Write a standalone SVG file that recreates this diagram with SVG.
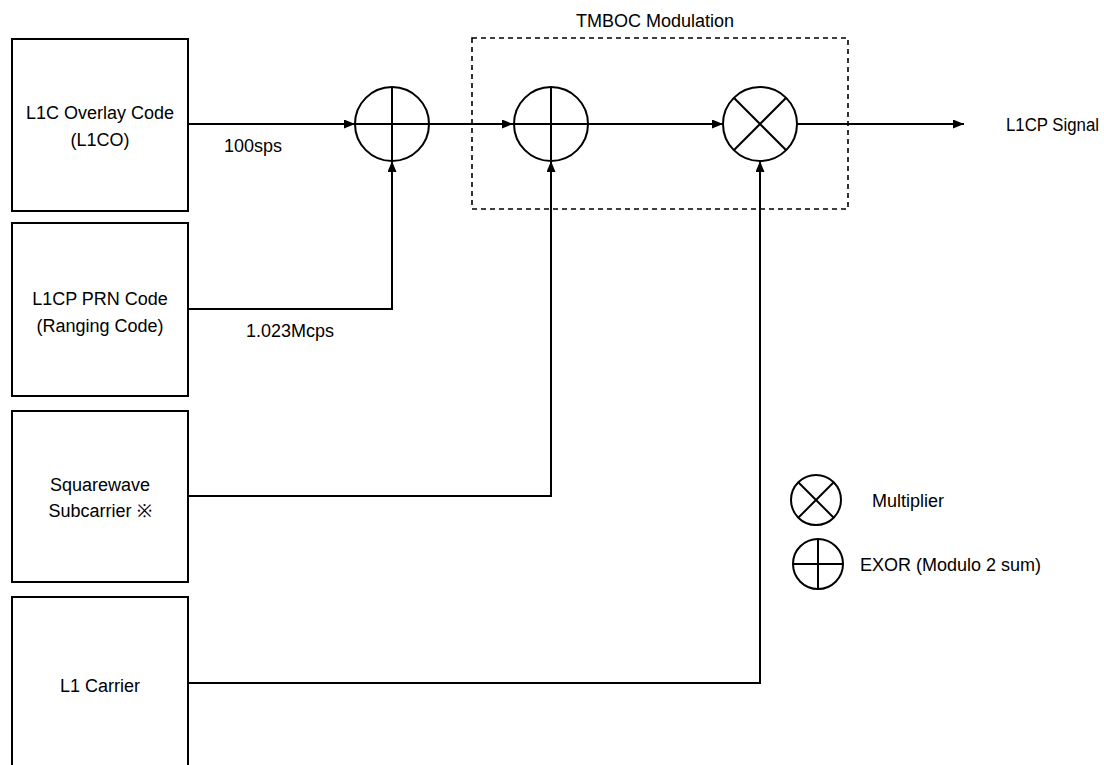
<svg xmlns="http://www.w3.org/2000/svg" width="1104" height="765" viewBox="0 0 1104 765">
<style>
.box{fill:#fff;stroke:#000;stroke-width:2}
.op{fill:#fff;stroke:#000;stroke-width:2}
.sym{fill:none;stroke:#000;stroke-width:2}
.wire{fill:none;stroke:#000;stroke-width:2}
.dash{fill:none;stroke:#000;stroke-width:1.6;stroke-dasharray:5,4}
text{font-family:"Liberation Sans",Arial,sans-serif;font-size:18px;fill:#000}
.c{text-anchor:middle}
</style>
<defs>
<marker id="ah" viewBox="0 0 11 9" refX="11" refY="4.5" markerWidth="11" markerHeight="9" markerUnits="userSpaceOnUse" orient="auto">
<path d="M0,0 L11,4.5 L0,9 Z" fill="#000"/>
</marker>
</defs>
<rect width="1104" height="765" fill="#fff"/>
<g id="tmboc">
<rect class="dash" x="472" y="38" width="376" height="171"/>
<text class="c" x="655" y="27">TMBOC Modulation</text>
</g>
<g id="connectors">
<path class="wire" d="M188,124 H355" marker-end="url(#ah)"/>
<path class="wire" d="M188,309 H392 V161" marker-end="url(#ah)"/>
<path class="wire" d="M429,124 H513" marker-end="url(#ah)"/>
<path class="wire" d="M188,496 H551 V161" marker-end="url(#ah)"/>
<path class="wire" d="M588,124 H723" marker-end="url(#ah)"/>
<path class="wire" d="M188,683 H760 V161" marker-end="url(#ah)"/>
<path class="wire" d="M797,124 H964" marker-end="url(#ah)"/>
<text class="c" x="253" y="152">100sps</text>
<text class="c" x="290" y="337">1.023Mcps</text>
</g>
<g id="l1co">
<rect class="box" x="12" y="39" width="176" height="172"/>
<text class="c" x="100" y="119">L1C Overlay Code</text>
<text class="c" x="100" y="146">(L1CO)</text>
</g>
<g id="prn">
<rect class="box" x="12" y="223" width="176" height="173"/>
<text class="c" x="100" y="305">L1CP PRN Code</text>
<text class="c" x="100" y="332">(Ranging Code)</text>
</g>
<g id="subcarrier">
<rect class="box" x="12" y="411" width="176" height="171"/>
<text class="c" x="100" y="491">Squarewave</text>
<text class="c" x="100" y="517">Subcarrier ※</text>
</g>
<g id="carrier">
<rect class="box" x="12" y="597" width="176" height="180"/>
<text class="c" x="100" y="692">L1 Carrier</text>
</g>
<g id="xor1">
<circle class="op" cx="392" cy="124" r="37"/>
<path class="sym" d="M355,124 H429 M392,87 V161"/>
</g>
<g id="xor2">
<circle class="op" cx="551" cy="124" r="37"/>
<path class="sym" d="M514,124 H588 M551,87 V161"/>
</g>
<g id="mult">
<circle class="op" cx="760" cy="124" r="37"/>
<path class="sym" d="M733.8,97.8 L786.2,150.2 M786.2,97.8 L733.8,150.2"/>
</g>
<g id="output">
<text x="1006" y="131" textLength="93" lengthAdjust="spacingAndGlyphs">L1CP Signal</text>
</g>
<g id="legend-mult">
<circle class="op" cx="816" cy="500" r="25"/>
<path class="sym" d="M798.3,482.3 L833.7,517.7 M833.7,482.3 L798.3,517.7"/>
<text x="872" y="507">Multiplier</text>
</g>
<g id="legend-xor">
<circle class="op" cx="818" cy="564" r="25"/>
<path class="sym" d="M793,564 H843 M818,539 V589"/>
<text x="860" y="571">EXOR (Modulo 2 sum)</text>
</g>
</svg>
